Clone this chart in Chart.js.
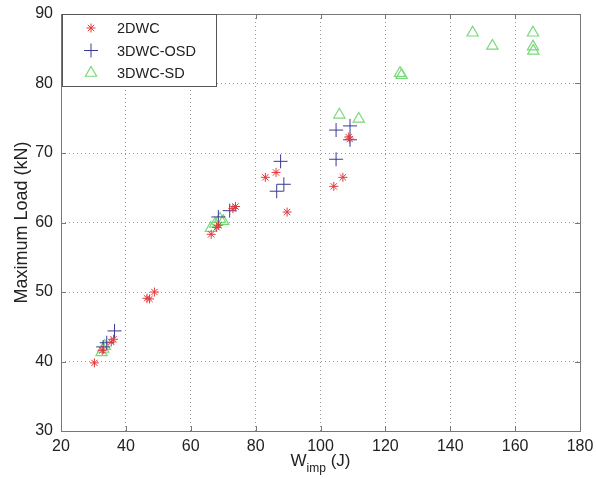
<!DOCTYPE html>
<html>
<head>
<meta charset="utf-8">
<script src="https://cdn.jsdelivr.net/npm/chart.js@4.4.1/dist/chart.umd.min.js"></script>
<style>
  html, body { margin: 0; padding: 0; background: #fff; }
  #wrap { width: 596px; height: 479px; }
</style>
</head>
<body>
<div id="wrap"><canvas id="chart" width="596" height="479"></canvas></div>
<script>
// values
const seriesNames = ['2DWC', '3DWC-OSD', '3DWC-SD'];

const twoDwcX = [30.3, 32.7, 35.5, 36.2, 46.5, 47.3, 48.8, 66.3, 68.0, 68.6, 73.0, 73.8, 83.0, 86.3, 89.7, 104.1, 106.9, 108.7, 109.0];
const twoDwcY = [39.8, 41.6, 42.8, 43.2, 49.1, 49.0, 50.0, 58.3, 59.3, 59.6, 62.0, 62.3, 66.5, 67.2, 61.5, 65.2, 66.5, 72.3, 72.0];

const osdX = [33.0, 34.1, 36.5, 68.5, 72.0, 86.5, 87.7, 88.7, 104.8, 104.8, 109.1, 109.1];
const osdY = [42.1, 42.7, 44.4, 60.8, 61.7, 64.5, 68.8, 65.5, 69.1, 73.3, 73.9, 71.9];

const sdX = [32.5, 33.0, 33.5, 66.2, 67.5, 69.0, 70.0, 105.8, 111.8, 124.5, 125.0, 146.9, 153.0, 165.5, 165.5, 165.6];
const sdY = [41.3, 41.8, 42.2, 59.2, 59.8, 60.5, 60.2, 75.5, 74.9, 81.5, 81.2, 87.3, 85.4, 87.3, 85.3, 84.7];

const xTicks = [20, 40, 60, 80, 100, 120, 140, 160, 180];
const yTicks = [30, 40, 50, 60, 70, 80, 90];

const toPoints = (xs, ys) => xs.map((x, i) => ({x, y: ys[i]}));

const FONT = '"Liberation Sans", Arial, sans-serif';
const TEXT = '#222';

const markers = [
  {style: 'star', radius: 4.5, color: '#e0393b', width: 1},
  {style: 'cross', radius: 7, color: '#3a3a96', width: 1},
  {style: 'triangle', radius: 6.5, color: '#7ad97a', width: 1.2},
];

// legend marker, falls back to plain paths if helpers are not exposed
function legendMarker(ctx, m, x, y) {
  const helpers = Chart.helpers;
  if (helpers && helpers.drawPoint) {
    helpers.drawPoint(ctx, {pointStyle: m.style, radius: m.radius, borderWidth: m.width, rotation: 0}, x, y);
    return;
  }
  const r = m.radius;
  ctx.beginPath();
  if (m.style === 'triangle') {
    ctx.moveTo(x, y - r);
    ctx.lineTo(x + r * 0.87, y + r * 0.5);
    ctx.lineTo(x - r * 0.87, y + r * 0.5);
    ctx.closePath();
  } else {
    ctx.moveTo(x - r, y); ctx.lineTo(x + r, y);
    ctx.moveTo(x, y - r); ctx.lineTo(x, y + r);
    if (m.style === 'star') {
      const d = r * 0.707;
      ctx.moveTo(x - d, y - d); ctx.lineTo(x + d, y + d);
      ctx.moveTo(x - d, y + d); ctx.lineTo(x + d, y - d);
    }
  }
  ctx.stroke();
}

const frameAndLabels = {
  id: 'frameAndLabels',
  afterDraw(chart) {
    const {ctx, chartArea: a} = chart;
    ctx.save();
    ctx.strokeStyle = '#777';
    ctx.lineWidth = 1;
    ctx.strokeRect(Math.round(a.left) + 0.5, Math.round(a.top) + 0.5, Math.round(a.right - a.left), Math.round(a.bottom - a.top));

    // small inner ticks like matlab
    ctx.beginPath();
    const xs = chart.scales.x, ys = chart.scales.y;
    xTicks.forEach(v => {
      const px = Math.round(xs.getPixelForValue(v)) + 0.5;
      ctx.moveTo(px, a.bottom); ctx.lineTo(px, a.bottom - 5);
      ctx.moveTo(px, a.top); ctx.lineTo(px, a.top + 5);
    });
    yTicks.forEach(v => {
      const py = Math.round(ys.getPixelForValue(v)) + 0.5;
      ctx.moveTo(a.left, py); ctx.lineTo(a.left + 5, py);
      ctx.moveTo(a.right, py); ctx.lineTo(a.right - 5, py);
    });
    ctx.stroke();

    // x title with subscript
    ctx.fillStyle = TEXT;
    ctx.textBaseline = 'alphabetic';
    const cx = (a.left + a.right) / 2;
    const base = 466;
    const big = '17px ' + FONT, small = '12px ' + FONT;
    ctx.font = big;
    const wW = ctx.measureText('W').width;
    const wJ = ctx.measureText(' (J)').width;
    ctx.font = small;
    const wSub = ctx.measureText('imp').width;
    const x0 = cx - (wW + wSub + wJ) / 2;
    ctx.font = big;
    ctx.fillText('W', x0, base);
    ctx.font = small;
    ctx.fillText('imp', x0 + wW, base + 6);
    ctx.font = big;
    ctx.fillText(' (J)', x0 + wW + wSub, base);

    // y title
    ctx.save();
    ctx.translate(22, (a.top + a.bottom) / 2);
    ctx.rotate(-Math.PI / 2);
    ctx.textAlign = 'center';
    ctx.textBaseline = 'middle';
    ctx.font = '18px ' + FONT;
    ctx.fillText('Maximum Load (kN)', 0, 0);
    ctx.restore();

    // legend box inside top-left corner
    const lx = Math.round(a.left) + 1, ly = Math.round(a.top), lw = 154, lh = 72;
    ctx.fillStyle = '#fff';
    ctx.fillRect(lx, ly, lw, lh);
    ctx.strokeStyle = '#555';
    ctx.lineWidth = 1;
    ctx.strokeRect(lx + 0.5, ly + 0.5, lw, lh);
    ctx.font = '14.5px ' + FONT;
    ctx.textBaseline = 'middle';
    ctx.textAlign = 'left';
    seriesNames.forEach((name, i) => {
      const m = markers[i];
      const y = ly + 14 + i * 22.5;
      ctx.strokeStyle = m.color;
      ctx.fillStyle = 'rgba(0,0,0,0)';
      ctx.lineWidth = m.width;
      legendMarker(ctx, m, lx + 29, y);
      ctx.fillStyle = TEXT;
      ctx.fillText(name, lx + 55, y + 1);
    });
    ctx.restore();
  },
};

const datasets = [
  toPoints(twoDwcX, twoDwcY),
  toPoints(osdX, osdY),
  toPoints(sdX, sdY),
].map((data, i) => ({
  label: seriesNames[i],
  data,
  pointStyle: markers[i].style,
  pointRadius: markers[i].radius,
  pointBorderColor: markers[i].color,
  pointBackgroundColor: 'rgba(0,0,0,0)',
  pointBorderWidth: markers[i].width,
  showLine: false,
}));

new Chart(document.getElementById('chart').getContext('2d'), {
  type: 'scatter',
  data: {datasets},
  plugins: [frameAndLabels],
  options: {
    responsive: false,
    animation: false,
    layout: {padding: {left: 0, right: 16, top: 14, bottom: 0}},
    plugins: {
      legend: {display: false},
      tooltip: {enabled: false},
    },
    scales: {
      x: {
        type: 'linear',
        min: 20,
        max: 180,
        afterBuildTicks: scale => { scale.ticks = xTicks.map(value => ({value})); },
        afterFit: scale => {
          scale.height = 48;
          scale.paddingLeft = 0;
          scale.paddingRight = 0;
        },
        grid: {color: '#999', lineWidth: 1, drawTicks: false},
        border: {display: false, dash: [1, 3]},
        ticks: {color: TEXT, font: {family: FONT, size: 16}, padding: 6, maxRotation: 0},
      },
      y: {
        type: 'linear',
        min: 30,
        max: 90,
        afterBuildTicks: scale => { scale.ticks = yTicks.map(value => ({value})); },
        afterFit: scale => {
          scale.width = 61;
          scale.paddingTop = 0;
          scale.paddingBottom = 0;
        },
        grid: {color: '#999', lineWidth: 1, drawTicks: false},
        border: {display: false, dash: [1, 3]},
        ticks: {color: TEXT, font: {family: FONT, size: 16}, padding: 8},
      },
    },
  },
});
</script>
</body>
</html>
